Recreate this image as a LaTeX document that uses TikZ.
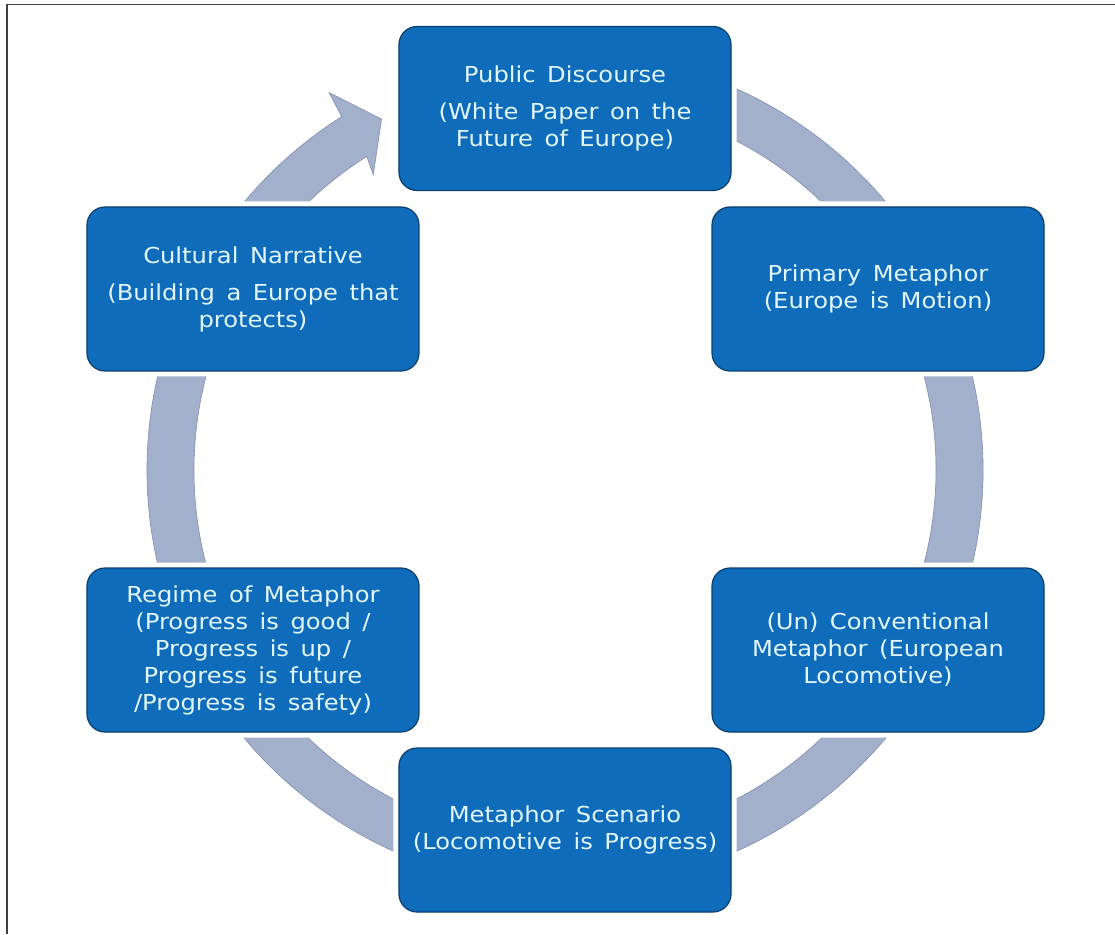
\documentclass[tikz,border=0pt]{standalone}
\usepackage{fontspec}
\setmainfont[FakeStretch=1.1,WordSpace=1.5]{DejaVu Sans}
\usetikzlibrary{positioning}

\definecolor{boxblue}{RGB}{14,108,186}
\definecolor{boxline}{RGB}{12,62,110}
\definecolor{ringgray}{RGB}{163,176,204}
\definecolor{ringline}{RGB}{128,142,175}
\definecolor{textblue}{RGB}{226,246,252}

\begin{document}
\begin{tikzpicture}[
		x=1pt,y=1pt,
		mybox/.style={draw=boxline,line width=1.2pt,fill=boxblue,rounded corners=18pt,
			minimum width=332pt,minimum height=164pt,inner sep=0pt,align=center,
			text=textblue,font=\fontsize{22}{27}\selectfont,
			preaction={draw=white,line width=11pt}},
		myring/.style={fill=ringgray,draw=ringline,line width=0.6pt}
		]
		\useasboundingbox (-565,-464) rectangle (550,470);
		\draw[line width=1.5pt,black!75] (-558,-464) -- (-558,465.5) -- (550,465.5);
		% the cycle, drawn first so the boxes sit on it
		\coordinate (hub) at (0,0);
		\path[myring] (105:418pt) arc[start angle=105,end angle=-237.7,radius=418pt]
			-- (122.0:445pt) -- (117.6:396pt) -- (123.0:352pt) -- (-237.7:371pt)
			arc[start angle=-237.7,end angle=105,radius=371pt] -- cycle;
		\node[mybox] (public) at (0,361.5)
			{Public Discourse\\[10pt](White Paper on the\\Future of Europe)};
		\node[mybox] (primary) at (313,181)
			{Primary Metaphor\\(Europe is Motion)};
		\node[mybox] (convention) at (313,-180)
			{(Un) Conventional\\Metaphor (European\\Locomotive)};
		\node[mybox] (scenario) at (0,-360)
			{Metaphor Scenario\\(Locomotive is Progress)};
		\node[mybox] (regime) at (-312,-180)
			{Regime of Metaphor\\(Progress is good /\\Progress is up /\\Progress is future\\/Progress is safety)};
		\node[mybox] (culture) at (-312,181)
			{Cultural Narrative\\[10pt](Building a Europe that\\protects)};
	\end{tikzpicture}
\end{document}
